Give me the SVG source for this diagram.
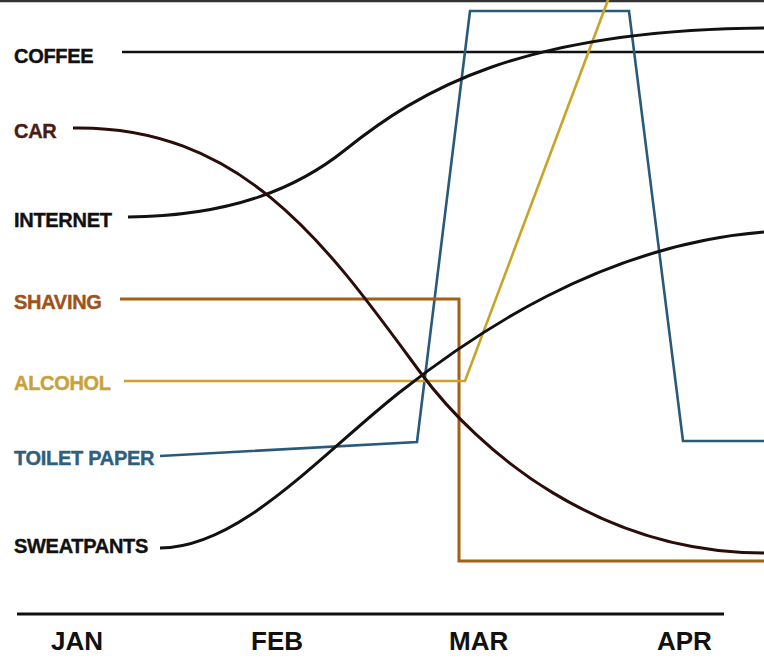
<svg xmlns="http://www.w3.org/2000/svg" width="764" height="658" viewBox="0 0 764 658">
  <style>
    .lbl { font-family: "Liberation Sans", Arial, sans-serif; font-weight: bold; font-size: 20px; letter-spacing: -0.3px; stroke-width: 0.4px; }
    .mon { font-family: "Liberation Sans", Arial, sans-serif; font-weight: bold; font-size: 26px; fill: #111; }
    .ln { fill: none; stroke-linejoin: miter; stroke-linecap: butt; }
  </style>
  <rect width="764" height="658" fill="#ffffff"/>
  <line x1="0" y1="1" x2="764" y2="1" stroke="#333" stroke-width="2.5"/>

  <g id="coffee"><text class="lbl" x="14" y="63" fill="#111" stroke="#111">COFFEE</text></g>
  <g id="car"><text class="lbl" x="14" y="138" fill="#4a1c14" stroke="#4a1c14">CAR</text></g>
  <g id="internet"><text class="lbl" x="14" y="227" fill="#111" stroke="#111">INTERNET</text></g>
  <g id="shaving"><text class="lbl" x="14" y="309" fill="#a0521a" stroke="#a0521a">SHAVING</text></g>
  <g id="alcohol"><text class="lbl" x="14" y="390" fill="#c9a13a" stroke="#c9a13a">ALCOHOL</text></g>
  <g id="toilet-paper"><text class="lbl" x="14" y="465" fill="#2f5f7f" stroke="#2f5f7f">TOILET PAPER</text></g>
  <g id="sweatpants"><text class="lbl" x="14" y="553" fill="#111" stroke="#111">SWEATPANTS</text></g>

  <g id="connectors">
    <path class="ln" d="M122,52 H764" stroke="#111" stroke-width="2.5"/>
    <path class="ln" d="M160,456 L417,442 L470,11 H629 L683,441 H764" stroke="#2a5a7a" stroke-width="2.6"/>
    <path class="ln" d="M120,299 H459 V561 H764" stroke="#a55f12" stroke-width="3"/>
    <path class="ln" d="M124,381 H465 L611,-8" stroke="#c9a227" stroke-width="2.6"/>
    <path class="ln" d="M128,217 C235,216 300,186 345,150 C420,90 520,30 764,28" stroke="#111" stroke-width="3"/>
    <path class="ln" d="M160,548 C240,548 320,455 400,392 C470,337 600,245 764,232" stroke="#111" stroke-width="3"/>
    <path class="ln" d="M73,128 C245,125 330,250 420,372 C480,453 600,553 764,553" stroke="#2a0c08" stroke-width="3"/>
  </g>

  <g id="axis">
    <line x1="17" y1="614" x2="724" y2="614" stroke="#111" stroke-width="3"/>
    <text class="mon" x="51" y="650">JAN</text>
    <text class="mon" x="251" y="650">FEB</text>
    <text class="mon" x="449" y="650">MAR</text>
    <text class="mon" x="657" y="650">APR</text>
  </g>
</svg>
